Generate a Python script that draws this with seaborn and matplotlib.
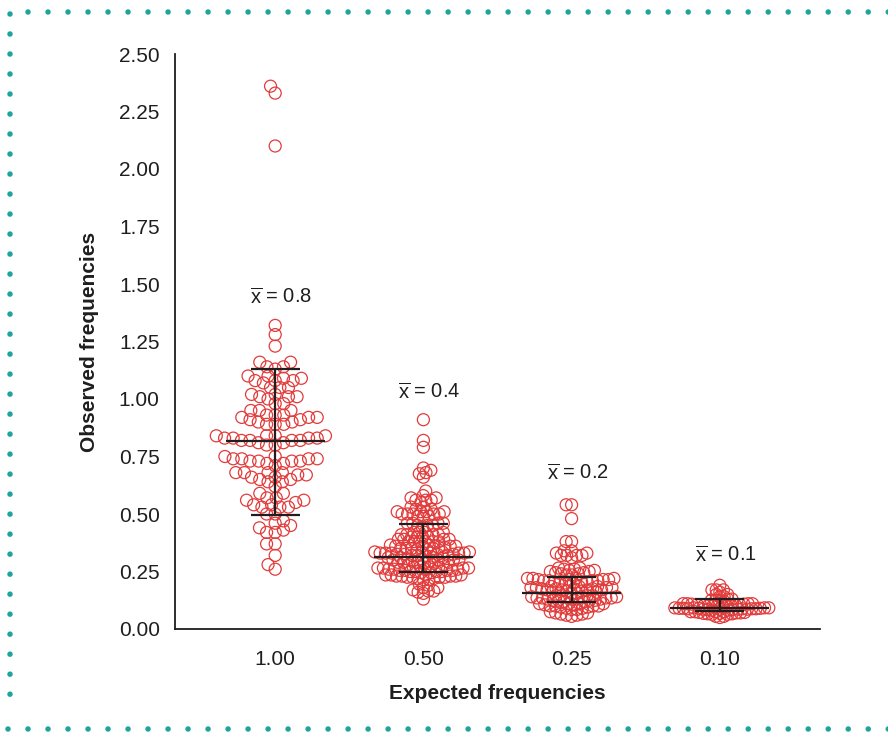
import numpy as np
import pandas as pd
import matplotlib
matplotlib.use("Agg")
import matplotlib.pyplot as plt
import seaborn as sns
from matplotlib.lines import Line2D

# ---------------- data ----------------
categories = ["1.00", "0.50", "0.25", "0.10"]

obs_100 = [2.36, 2.33, 2.10, 1.32, 1.28, 1.23, 1.16, 1.16, 1.14, 1.14, 1.13,
           1.10, 1.09, 1.08, 1.08, 1.05, 1.05, 1.05, 1.07, 1.08, 1.09, 1.10,
           1.02, 1.01, 1.01, 0.98, 0.95, 0.95, 0.95, 0.98, 1.00, 1.01, 1.02,
           0.93, 0.93, 0.92, 0.91, 0.90, 0.89, 0.89, 0.89, 0.90, 0.91, 0.92, 0.92, 0.93,
           0.84, 0.84, 0.83, 0.83, 0.82, 0.82, 0.81, 0.80, 0.80, 0.81, 0.82, 0.82, 0.83, 0.83, 0.84, 0.84,
           0.75, 0.74, 0.74, 0.73, 0.73, 0.72, 0.71, 0.72, 0.73, 0.73, 0.74, 0.74, 0.75,
           0.68, 0.68, 0.67, 0.66, 0.65, 0.64, 0.62, 0.64, 0.65, 0.66, 0.67, 0.68, 0.68,
           0.57, 0.56, 0.55, 0.54, 0.59, 0.53, 0.53, 0.59, 0.53, 0.54, 0.56, 0.57,
           0.50, 0.47, 0.45, 0.46, 0.50, 0.44, 0.42, 0.42, 0.43,
           0.37, 0.37, 0.32, 0.28, 0.26]

obs_050 = [0.91, 0.82, 0.79,
           0.70, 0.69, 0.68, 0.675, 0.66,
           0.60, 0.58,
           0.57, 0.57, 0.56, 0.56, 0.56, 0.55,
           0.53, 0.53, 0.52, 0.52,
           0.51, 0.51, 0.50, 0.50, 0.50, 0.49, 0.49, 0.49, 0.50, 0.50, 0.51, 0.51,
           0.46, 0.46, 0.45, 0.45, 0.44, 0.45, 0.46, 0.46,
           0.42, 0.42, 0.41, 0.41, 0.40, 0.40, 0.40, 0.40, 0.41, 0.41, 0.42, 0.42,
           0.39, 0.39, 0.38, 0.38, 0.38, 0.38, 0.38, 0.38, 0.39, 0.39,
           0.365, 0.36, 0.36, 0.355, 0.35, 0.35, 0.345, 0.345, 0.35, 0.35, 0.355, 0.36, 0.36, 0.365,
           0.335, 0.335, 0.33, 0.33, 0.33, 0.325, 0.325, 0.32, 0.32, 0.32, 0.32, 0.325, 0.325,
           0.33, 0.33, 0.33, 0.335, 0.335,
           0.31, 0.31, 0.305, 0.30, 0.30, 0.295, 0.29, 0.29, 0.285, 0.28, 0.28, 0.285, 0.29,
           0.29, 0.295, 0.30, 0.30, 0.305, 0.31, 0.31,
           0.27, 0.27, 0.265, 0.265, 0.26, 0.26, 0.255, 0.255, 0.25, 0.25, 0.245, 0.245, 0.25,
           0.25, 0.255, 0.255, 0.26, 0.26, 0.265, 0.265, 0.27, 0.27,
           0.235, 0.235, 0.23, 0.23, 0.225, 0.225, 0.22, 0.215, 0.215, 0.22, 0.225, 0.225,
           0.23, 0.23, 0.235, 0.235,
           0.19, 0.18, 0.17, 0.155, 0.13, 0.16, 0.165, 0.165, 0.18, 0.195]

obs_025 = [0.54, 0.54, 0.48, 0.38, 0.38,
           0.34, 0.33, 0.32, 0.32, 0.31, 0.32, 0.32, 0.33, 0.34,
           0.265, 0.26, 0.255, 0.25, 0.245, 0.24, 0.235, 0.235, 0.24, 0.245, 0.25, 0.255, 0.26, 0.265,
           0.22, 0.22, 0.215, 0.215, 0.21, 0.21, 0.205, 0.205, 0.20, 0.20, 0.205, 0.205, 0.21,
           0.21, 0.215, 0.215, 0.22, 0.22,
           0.185, 0.185, 0.18, 0.18, 0.175, 0.175, 0.17, 0.17, 0.165, 0.16, 0.155, 0.155, 0.16,
           0.165, 0.17, 0.17, 0.175, 0.175, 0.18, 0.18, 0.185, 0.185,
           0.145, 0.145, 0.14, 0.14, 0.135, 0.135, 0.13, 0.13, 0.125, 0.125, 0.12, 0.12, 0.125,
           0.125, 0.13, 0.13, 0.135, 0.135, 0.14, 0.14, 0.145, 0.145,
           0.11, 0.11, 0.105, 0.10, 0.10, 0.095, 0.09, 0.085, 0.085, 0.09, 0.095, 0.10, 0.10,
           0.105, 0.11, 0.11,
           0.075, 0.07, 0.065, 0.06, 0.055, 0.06, 0.065, 0.07]

obs_010 = [0.17, 0.17, 0.15, 0.14, 0.14, 0.15, 0.16, 0.17, 0.19,
           0.13, 0.125, 0.12, 0.12, 0.125, 0.13,
           0.11, 0.11, 0.108, 0.106, 0.104, 0.102, 0.10, 0.10, 0.10, 0.10, 0.102, 0.104,
           0.106, 0.108, 0.11, 0.11,
           0.092, 0.092, 0.09, 0.09, 0.088, 0.088, 0.086, 0.086, 0.084, 0.082, 0.082, 0.084,
           0.086, 0.086, 0.088, 0.088, 0.09, 0.09, 0.092, 0.092,
           0.075, 0.075, 0.072, 0.07, 0.068, 0.066, 0.064, 0.064, 0.066, 0.068, 0.07, 0.072,
           0.075, 0.075,
           0.055, 0.05, 0.055]

center_vals = [0.817, 0.313, 0.158, 0.093]
err_low = [0.496, 0.248, 0.117, 0.078]
err_high = [1.13, 0.457, 0.227, 0.129]
mean_labels = ["0.8", "0.4", "0.2", "0.1"]

groups = [obs_100, obs_050, obs_025, obs_010]
df = pd.DataFrame({
    "expected": np.repeat(categories, [len(g) for g in groups]),
    "observed": np.concatenate(groups),
})

# ---------------- style ----------------
sns.set_style("white")
plt.rcParams["font.family"] = ["Liberation Sans", "DejaVu Sans"]
plt.rcParams["mathtext.fontset"] = "custom"
plt.rcParams["mathtext.rm"] = "Liberation Sans"
plt.rcParams["mathtext.it"] = "Liberation Sans"

RED = "#e23b3b"
INK = "#1e1e1e"
TEAL = "#1fa39d"

W, H = 888, 733
fig = plt.figure(figsize=(W / 100, H / 100), dpi=100)
ax = fig.add_axes([175 / W, 1 - 629 / H, (820 - 175) / W, (629 - 54) / H])

# marker spacing (px) used to lay out each swarm; circles are drawn larger afterwards
place_px = [8.2, 5.2, 5.2, 4.1]
for cat, s in zip(categories, place_px):
    sub = df[df["expected"] == cat]
    sns.swarmplot(data=sub, x="expected", y="observed", order=categories,
                  size=s * 0.72, color=RED, ax=ax, warn_thresh=1.0)

ax.set_xlim(-0.676, 3.676)
ax.set_ylim(0, 2.5)
fig.canvas.draw()
for c in ax.collections:
    if "draw" in c.__dict__:
        del c.draw
    c.set_sizes([(12.0 * 0.72) ** 2])
    c.set_facecolor("none")
    c.set_edgecolor(RED)
    c.set_linewidth(0.9)

# central line and error bars
for i in range(len(categories)):
    ax.hlines(center_vals[i], i - 0.335, i + 0.335, color=INK, lw=1.6, zorder=5)
    ax.hlines([err_low[i], err_high[i]], i - 0.165, i + 0.165, color=INK, lw=1.6, zorder=5)
    ax.vlines(i, err_low[i], err_high[i], color=INK, lw=1.6, zorder=5)

label_pos = [1.44, 1.03, 0.675, 0.32]
for i, (lab, yy) in enumerate(zip(mean_labels, label_pos)):
    ax.text(i + 0.04, yy, r"$\overline{\mathrm{x}}$ = " + lab, ha="center", va="center",
            fontsize=14.5, color=INK)

ax.set_yticks(np.arange(0, 2.51, 0.25))
ax.set_yticklabels([f"{v:.2f}" for v in np.arange(0, 2.51, 0.25)])
ax.set_xticks(range(len(categories)))
ax.set_xticklabels(categories)
ax.tick_params(axis="both", direction="out", length=7, width=1.3, colors=INK,
               labelsize=15, pad=4)
ax.tick_params(axis="x", length=8, pad=7)
sns.despine(ax=ax)
ax.spines["left"].set_bounds(0, 2.5)
for sp in ("left", "bottom"):
    ax.spines[sp].set_linewidth(1.3)
    ax.spines[sp].set_color(INK)

ax.set_xlabel("Expected frequencies", fontsize=15, fontweight="bold", color=INK, labelpad=11)
ax.set_ylabel("Observed frequencies", fontsize=15, fontweight="bold", color=INK, labelpad=14)

# dotted teal frame
def dots(x0, y0, x1, y1):
    fig.add_artist(Line2D([x0 / W, x1 / W], [1 - y0 / H, 1 - y1 / H],
                          transform=fig.transFigure, color=TEAL, lw=4.0,
                          linestyle=(0, (0.001, 3.6)), dash_capstyle="round",
                          solid_capstyle="round"))

dots(28, 12, 890, 12)
dots(10, 14, 10, 714)
dots(8, 729, 890, 729)

fig.savefig("out.png", dpi=100)
